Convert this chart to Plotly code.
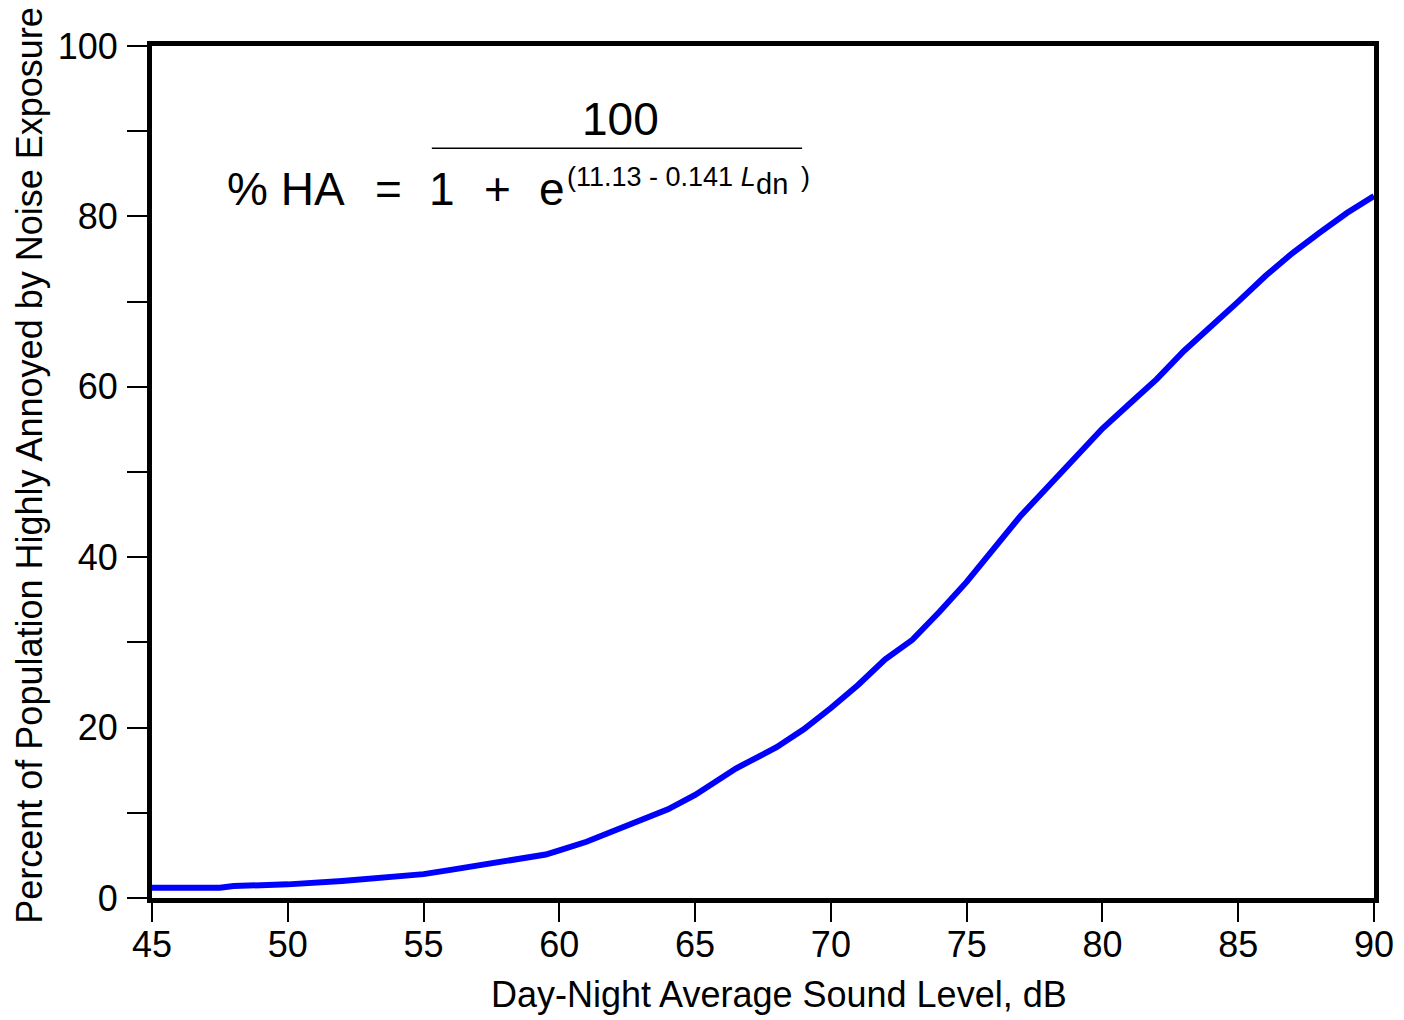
import plotly.graph_objects as go

ldn = [45, 47.5, 48, 50, 52, 54, 54.5, 55, 56, 58, 59.5, 60, 61, 62.5, 64, 65, 66.5, 68, 69, 70,
       71, 72, 73, 74, 75, 76, 77, 78, 79, 80, 81, 82, 83, 84, 85, 86, 87, 88, 89, 90]
pct_ha = [1.2, 1.2, 1.4, 1.6, 2.0, 2.6, 2.6, 2.8, 3.3, 4.3, 5.1, 5.6, 6.6, 8.5, 10.4, 12.1, 15.2, 17.7, 19.8, 22.3,
          25.0, 28.0, 30.3, 33.6, 37.1, 41.0, 44.9, 48.3, 51.7, 55.1, 58.0, 60.9, 64.2, 67.0, 70.0, 73.0, 75.7, 78.1, 80.4, 82.4]

y_tickvals = [0, 10, 20, 30, 40, 50, 60, 70, 80, 90, 100]
y_ticktext = ["0", "", "20", "", "40", "", "60", "", "80", "", "100"]
x_tickvals = [45, 50, 55, 60, 65, 70, 75, 80, 85, 90]
x_ticktext = ["45", "50", "55", "60", "65", "70", "75", "80", "85", "90"]

x_title = "Day-Night Average Sound Level, dB"
y_title = "Percent of Population Highly Annoyed by Noise Exposure"

FONT = "Liberation Sans, Arial, sans-serif"

fig = go.Figure()
fig.add_trace(go.Scatter(x=ldn, y=pct_ha, mode="lines",
                         line=dict(color="#0000ff", width=6), showlegend=False,
                         cliponaxis=True))

fig.update_layout(
    width=1404, height=1020,
    margin=dict(l=144, r=38, t=38, b=130),
    paper_bgcolor="white", plot_bgcolor="white",
    font=dict(family=FONT, color="black"),
    xaxis=dict(range=[45, 90], tickvals=x_tickvals, ticktext=x_ticktext,
               showgrid=False, zeroline=False, showline=True, mirror=True,
               linecolor="black", linewidth=5, ticks="outside", ticklen=19,
               tickwidth=2, tickcolor="black", tickfont=dict(size=36, family=FONT),
               ticklabelstandoff=-8),
    yaxis=dict(range=[0, 100], tickvals=y_tickvals, ticktext=y_ticktext,
               showgrid=False, zeroline=False, showline=True, mirror=True,
               linecolor="black", linewidth=5, ticks="outside", ticklen=20,
               tickwidth=2, tickcolor="black", tickfont=dict(size=36, family=FONT),
               ticklabelstandoff=2),
)

def ann(x, y, text, size, xanchor="center", angle=0):
    fig.add_annotation(xref="paper", yref="paper", x=x, y=y, text=text, showarrow=False,
                       font=dict(size=size, family=FONT, color="black"),
                       xanchor=xanchor, yanchor="middle", textangle=angle, borderpad=0)

# Axis titles
ann(0.513, -0.1138, x_title, 36)
ann(-0.1002, 0.508, y_title, 36, angle=-90)

# Formula
ann(0.383, 0.9149, "100", 46)
fig.add_shape(type="line", xref="paper", yref="paper", x0=0.229, x1=0.532, y0=0.880, y1=0.880,
              line=dict(color="black", width=1.5))
ann(0.1097, 0.8327, "%\u00a0HA", 46)
ann(0.1939, 0.8327, "=", 46)
ann(0.2373, 0.8327, "1", 46)
ann(0.2831, 0.8327, "+", 46)
ann(0.3277, 0.8327, "e", 46)
ann(0.3388, 0.8468, "(11.13 - 0.141 <i>L</i>", 27, xanchor="left")
ann(0.5074, 0.8386, "dn", 29)
ann(0.5344, 0.8457, ")", 27)

fig.write_html("out.html")
